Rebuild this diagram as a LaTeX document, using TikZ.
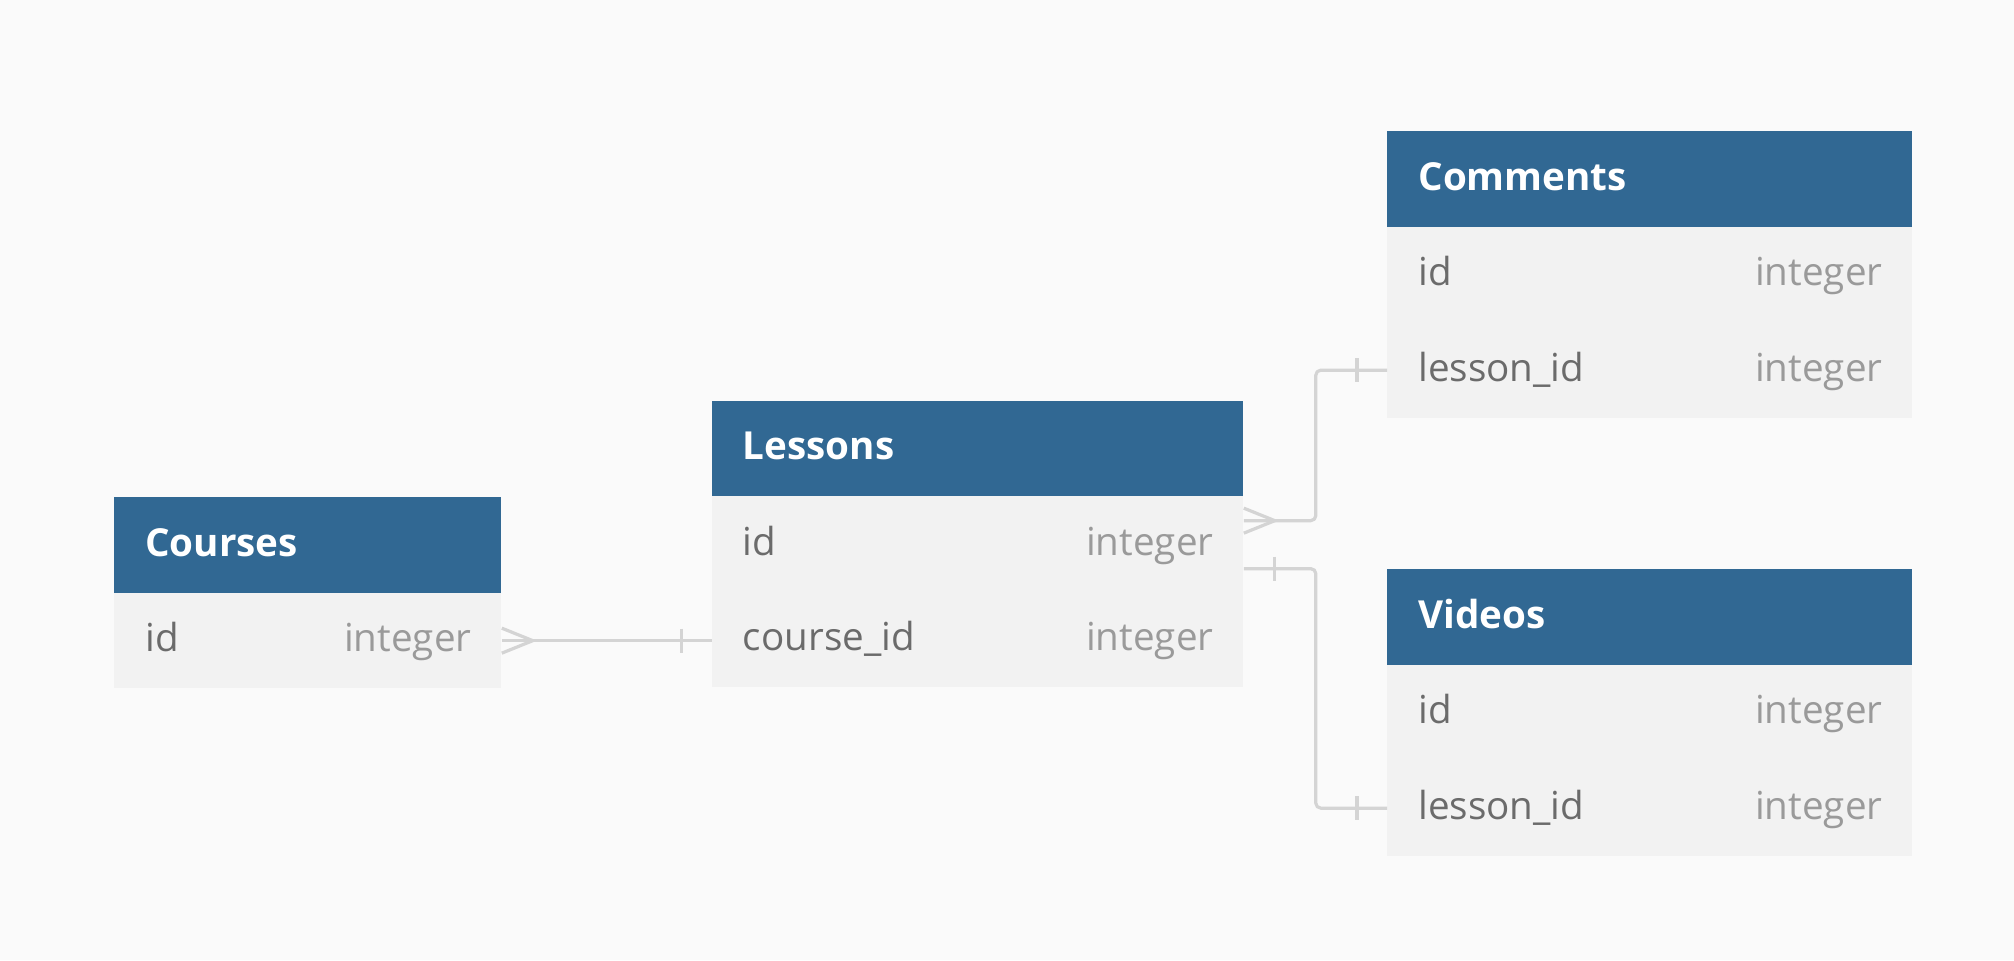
\documentclass[tikz,border=0pt]{standalone}
\usepackage{fontspec}
\setmainfont{Open Sans}
\usetikzlibrary{calc}
\definecolor{erdblue}{HTML}{316893}
\definecolor{erdrow}{HTML}{F2F2F2}
\definecolor{erdbg}{HTML}{FAFAFA}
\definecolor{erdline}{HTML}{D4D4D4}
\definecolor{fieldgray}{HTML}{6B6B6B}
\definecolor{typegray}{HTML}{9A9A9A}
\tikzset{
  tablehead/.style={fill=erdblue, inner sep=0pt, minimum height=47.75pt, anchor=north west},
  tablerow/.style={fill=erdrow, inner sep=0pt, minimum height=47.75pt, anchor=north west},
  celltext/.style={inner sep=0pt, text height=14pt, text depth=3pt, font=\fontsize{19.3}{23}\selectfont},
  tabletitle/.style={celltext, text=white, font=\fontsize{19.3}{23}\selectfont\bfseries, anchor=west},
  fieldname/.style={celltext, text=fieldgray, anchor=west},
  fieldtype/.style={celltext, text=typegray, anchor=east},
  rel/.style={draw=erdline, line width=1.6pt, line join=round},
}
\begin{document}
\begin{tikzpicture}[x=0.5pt, y=-0.5pt]
	\fill[erdbg] (0,0) rectangle (2014,960);
	% Courses
	\node[tablehead, minimum width=193.5pt] (courses) at (114,497) {};
	\node[tabletitle] (courses-t) at ($(courses.west)+(31,0)$) {Courses};
	\foreach \f/\t [count=\i] in {id/integer} {
		\node[tablerow, minimum width=193.5pt] (courses-\i) at (114,{497+95.5*\i}) {};
		\node[fieldname] (courses-\i-f) at ($(courses-\i.west)+(31,0)$) {\f};
		\node[fieldtype] (courses-\i-t) at ($(courses-\i.east)+(-30,0)$) {\t};
	}
	% Lessons
	\node[tablehead, minimum width=265.75pt] (lessons) at (711.5,400.5) {};
	\node[tabletitle] (lessons-t) at ($(lessons.west)+(31,0)$) {Lessons};
	\foreach \f/\t [count=\i] in {id/integer, course\_id/integer} {
		\node[tablerow, minimum width=265.75pt] (lessons-\i) at (711.5,{400.5+95.5*\i}) {};
		\node[fieldname] (lessons-\i-f) at ($(lessons-\i.west)+(31,0)$) {\f};
		\node[fieldtype] (lessons-\i-t) at ($(lessons-\i.east)+(-30,0)$) {\t};
	}
	% Comments
	\node[tablehead, minimum width=262.5pt] (comments) at (1387,131) {};
	\node[tabletitle] (comments-t) at ($(comments.west)+(31,0)$) {Comments};
	\foreach \f/\t [count=\i] in {id/integer, lesson\_id/integer} {
		\node[tablerow, minimum width=262.5pt] (comments-\i) at (1387,{131+95.5*\i}) {};
		\node[fieldname] (comments-\i-f) at ($(comments-\i.west)+(31,0)$) {\f};
		\node[fieldtype] (comments-\i-t) at ($(comments-\i.east)+(-30,0)$) {\t};
	}
	% Videos
	\node[tablehead, minimum width=262.5pt] (videos) at (1387,569) {};
	\node[tabletitle] (videos-t) at ($(videos.west)+(31,0)$) {Videos};
	\foreach \f/\t [count=\i] in {id/integer, lesson\_id/integer} {
		\node[tablerow, minimum width=262.5pt] (videos-\i) at (1387,{569+95.5*\i}) {};
		\node[fieldname] (videos-\i-f) at ($(videos-\i.west)+(31,0)$) {\f};
		\node[fieldtype] (videos-\i-t) at ($(videos-\i.east)+(-30,0)$) {\t};
	}
	% relations
	\coordinate (cl) at (courses-1.east -| lessons-2.west);
	\draw[rel] (courses-1.east) -- (cl);
	\draw[rel] ($(courses-1.east)+(0,-12.5)$) -- ($(courses-1.east)+(31,0)$) -- ($(courses-1.east)+(0,12.5)$);
	\draw[rel] ($(cl)+(-30,-12)$) -- +(0,24);

	\coordinate (lc) at ($(lessons-1.east)+(0,-23.5)$);
	\draw[rel, rounded corners=2.5pt] (lc) -- ++(72,0) |- (comments-2.west);
	\draw[rel] ($(lc)+(0,-12.5)$) -- ($(lc)+(31,0)$) -- ($(lc)+(0,12.5)$);
	\draw[rel] ($(comments-2.west)+(-30,-12)$) -- +(0,24);

	\coordinate (lv) at ($(lessons-1.east)+(0,24.5)$);
	\draw[rel, rounded corners=2.5pt] (lv) -- ++(72,0) |- (videos-2.west);
	\draw[rel] ($(lv)+(31,-12)$) -- +(0,24);
	\draw[rel] ($(videos-2.west)+(-30,-12)$) -- +(0,24);
\end{tikzpicture}
\end{document}
